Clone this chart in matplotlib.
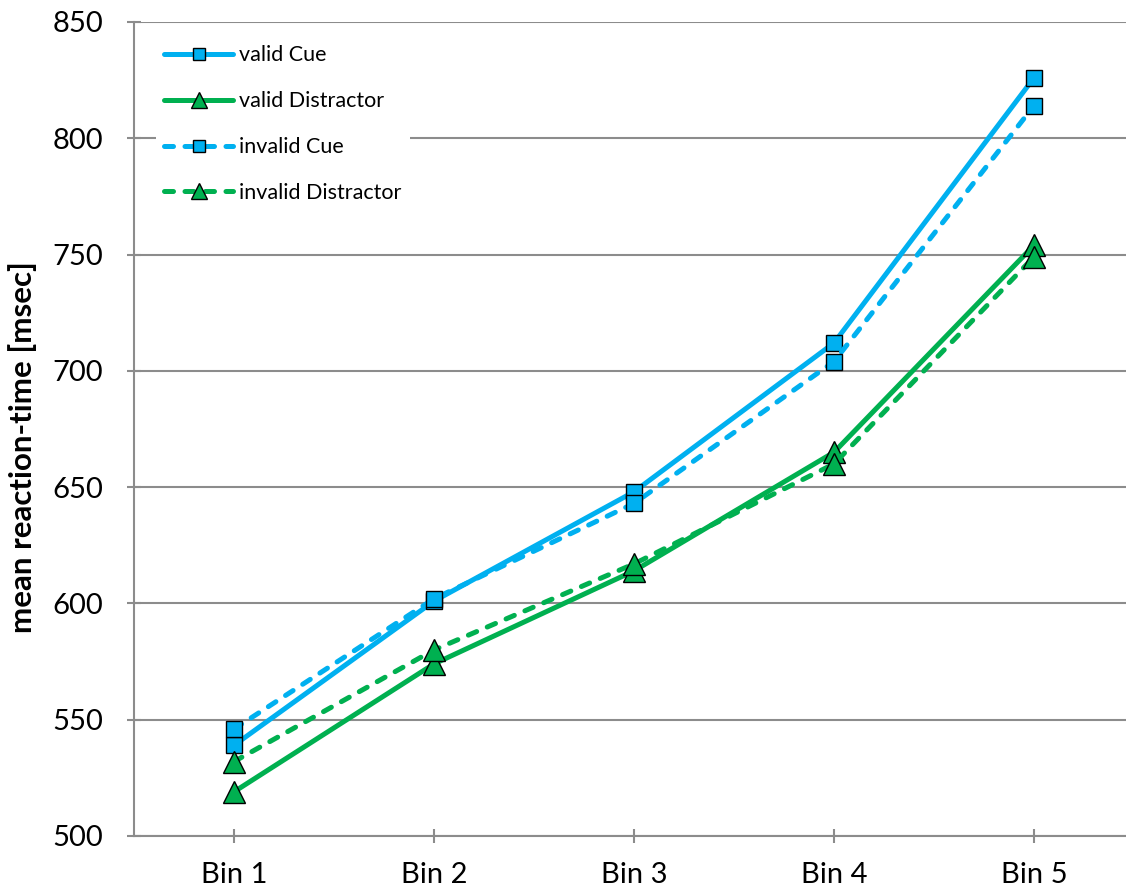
import matplotlib.pyplot as plt

# data
bins = ['Bin 1', 'Bin 2', 'Bin 3', 'Bin 4', 'Bin 5']
valid_cue = [539, 601, 648, 712, 826]
valid_distractor = [519, 574, 614, 665, 754]
invalid_cue = [546, 602, 643, 704, 814]
invalid_distractor = [532, 580, 617, 660, 749]

blue = '#00B0F0'
green = '#00B050'
gray = '#8C8C8C'

plt.rcParams['font.family'] = ['Lato', 'DejaVu Sans']

fig = plt.figure(figsize=(11.26, 8.90), dpi=100)
ax = fig.add_axes([134 / 1126, 54 / 890, 992 / 1126, 814 / 890])

x = list(range(1, len(bins) + 1))
dash = (0, (1.8, 2.3))

ax.plot(x, valid_cue, color=blue, lw=3.6, marker='s', ms=11.5,
        mfc=blue, mec='black', mew=1, label='valid Cue', zorder=3,
        solid_capstyle='round')
ax.plot(x, valid_distractor, color=green, lw=3.6, marker='^', ms=16,
        mfc=green, mec='black', mew=1, label='valid Distractor', zorder=3,
        solid_capstyle='round')
ax.plot(x, invalid_cue, color=blue, lw=3.6, ls=dash, marker='s', ms=11.5,
        mfc=blue, mec='black', mew=1, label='invalid Cue', zorder=3,
        dash_capstyle='round')
ax.plot(x, invalid_distractor, color=green, lw=3.6, ls=dash, marker='^', ms=16,
        mfc=green, mec='black', mew=1, label='invalid Distractor', zorder=3,
        dash_capstyle='round')

ax.set_xlim(0.5, 0.5 + 992 / 200)
ax.set_ylim(500, 850)
ax.set_yticks(range(500, 851, 50))
ax.set_xticks(x)
ax.set_xticklabels(bins)

ax.grid(axis='y', color=gray, lw=1.5)
ax.set_axisbelow(True)
for s in ['top', 'right']:
    ax.spines[s].set_visible(False)
for s in ['left', 'bottom']:
    ax.spines[s].set_color(gray)
    ax.spines[s].set_linewidth(1.5)
ax.tick_params(axis='both', direction='inout', length=10, width=1.5,
               color=gray, labelsize=21, pad=17)
ax.tick_params(axis='x', pad=14)

ax.set_ylabel('mean reaction-time [msec]', fontsize=22.5, fontweight='bold')
ax.yaxis.set_label_coords(-0.098, 0.478)

leg = ax.legend(loc='upper left', bbox_to_anchor=(145 / 1126, 1 - 26 / 890),
                bbox_transform=fig.transFigure, fontsize=15.5, frameon=True,
                handlelength=3.2, handletextpad=0.25, labelspacing=1.2,
                markerscale=0.75, borderpad=0.4)
leg.get_frame().set_edgecolor('none')
leg.get_frame().set_facecolor('white')
leg.get_frame().set_alpha(1)

fig.savefig('out.png', dpi=100)
